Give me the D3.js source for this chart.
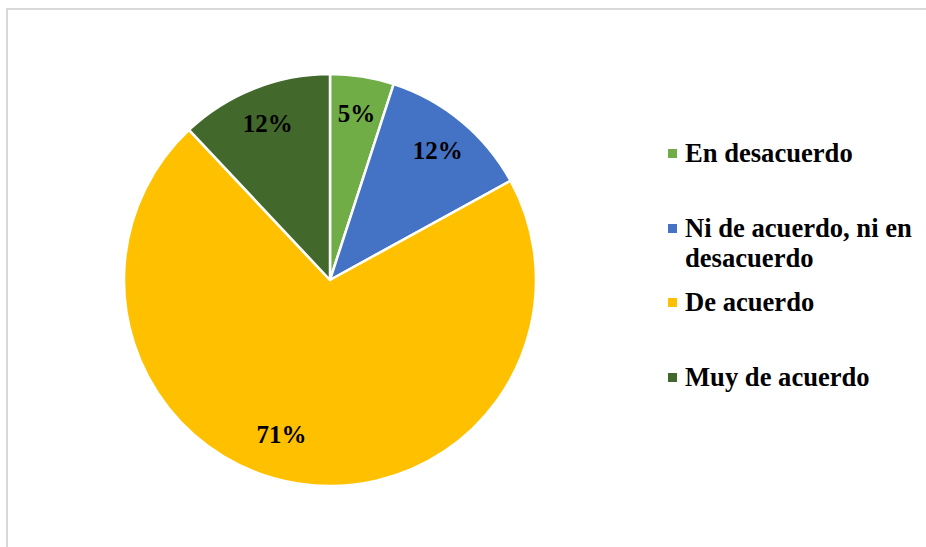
<!DOCTYPE html>
<html>
<head>
<meta charset="utf-8">
<script src="https://cdn.jsdelivr.net/npm/d3@7"></script>
<style>
  html, body { margin: 0; padding: 0; background: #fff; }
  svg { display: block; }
  svg text { font-family: "Liberation Serif", "Times New Roman", Tinos, Times, "DejaVu Serif", serif; font-weight: bold; }
</style>
</head>
<body>
<svg id="chart" width="926" height="547"></svg>
<script>
// Response categories and their share of answers (%)
const categories = ["En desacuerdo", "Ni de acuerdo, ni en desacuerdo", "De acuerdo", "Muy de acuerdo"];
const values = [5, 12, 71, 12];
const valueLabels = ["5%", "12%", "71%", "12%"];
// Legend text, wrapped as it is shown
const legendLines = [["En desacuerdo"], ["Ni de acuerdo, ni en", "desacuerdo"], ["De acuerdo"], ["Muy de acuerdo"]];
const colors = ["#70AD47", "#4472C4", "#FFC000", "#43682B"];

const svg = d3.select("#chart");
const W = 926, H = 547;

// Chart area frame
svg.append("rect")
  .attr("x", 7).attr("y", 9)
  .attr("width", W + 20).attr("height", H + 20)
  .attr("fill", "#fff")
  .attr("stroke", "#d9d9d9")
  .attr("stroke-width", 2);

const cx = 330, cy = 280, R = 206;

const pie = d3.pie().sort(null).value(d => d.value);
const data = categories.map((c, i) => ({ name: c, value: values[i], label: valueLabels[i], color: colors[i] }));
const arcs = pie(data);

const arc = d3.arc().innerRadius(0).outerRadius(R);
const labelArc = d3.arc().innerRadius(169).outerRadius(169);

const g = svg.append("g").attr("transform", `translate(${cx},${cy})`);

g.selectAll("path.slice")
  .data(arcs)
  .enter().append("path")
  .attr("class", "slice")
  .attr("d", arc)
  .attr("fill", d => d.data.color)
  .attr("stroke", "#fff")
  .attr("stroke-width", 2.5)
  .attr("stroke-linejoin", "round");

// Best-fit shift for the label of the large slice
const labelShift = { "De acuerdo": [-22, -13] };

g.selectAll("text.val")
  .data(arcs)
  .enter().append("text")
  .attr("class", "val")
  .attr("transform", d => {
    const [x, y] = labelArc.centroid(d);
    const s = labelShift[d.data.name] || [0, 0];
    return `translate(${x + s[0]},${y + s[1]})`;
  })
  .attr("text-anchor", "middle")
  .attr("dy", "0.35em")
  .style("font-size", "25px")
  .attr("fill", "#000")
  .text(d => d.data.label);

// Legend
const legendBaselines = [162, 237, 311, 386];
const legend = svg.append("g");
categories.forEach((c, i) => {
  const by = legendBaselines[i];
  legend.append("rect")
    .attr("x", 668).attr("y", by - 13)
    .attr("width", 9).attr("height", 9)
    .attr("fill", colors[i]);
  const t = legend.append("text")
    .attr("x", 685).attr("y", by)
    .style("font-size", "26.6px")
    .attr("fill", "#000");
  legendLines[i].forEach((line, j) => {
    t.append("tspan").attr("x", 685).attr("y", by + j * 30).text(line);
  });
});
</script>
</body>
</html>
